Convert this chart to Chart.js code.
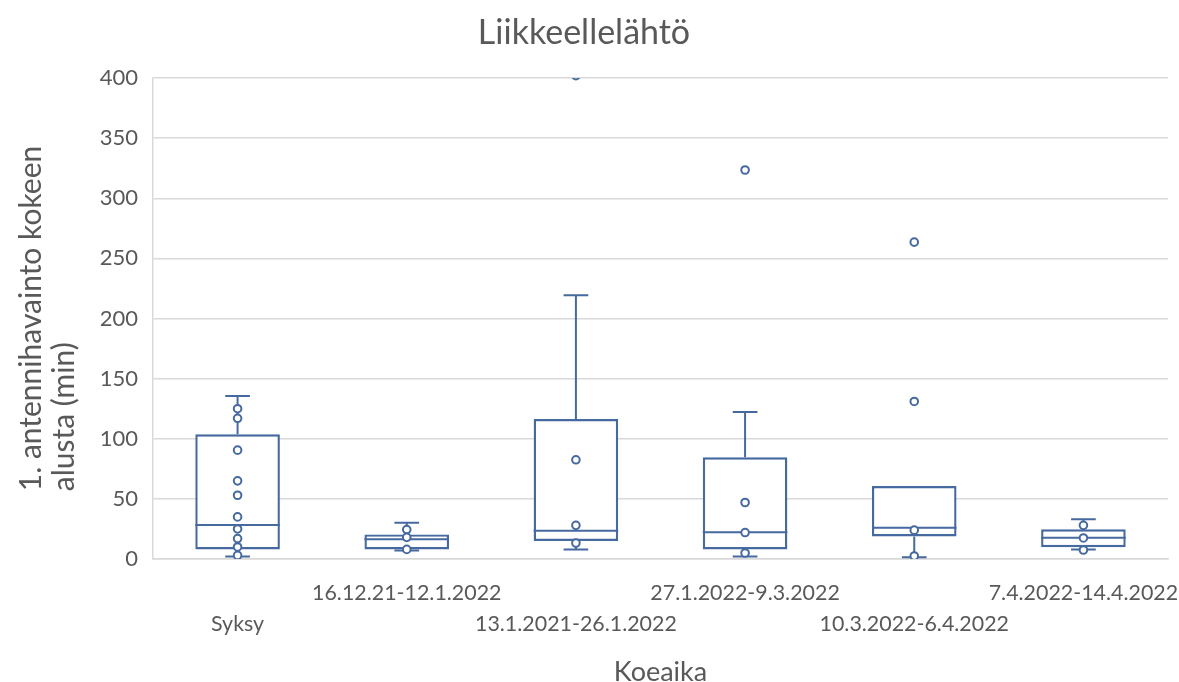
<!DOCTYPE html>
<html>
<head>
<meta charset="utf-8">
<title>Liikkeellelähtö</title>
<script src="https://cdn.jsdelivr.net/npm/chart.js@4.4.1/dist/chart.umd.min.js"></script>
<style>
  html, body { margin: 0; padding: 0; background: #ffffff; }
  #wrap { width: 1179px; height: 682px; }
</style>
</head>
<body>
<div id="wrap"><canvas id="chart" width="1179" height="682"></canvas></div>
<script>
// Sampling periods (x categories)
const categories = [
  'Syksy',
  '16.12.21-12.1.2022',
  '13.1.2021-26.1.2022',
  '27.1.2022-9.3.2022',
  '10.3.2022-6.4.2022',
  '7.4.2022-14.4.2022'
];

// Box-and-whisker summary per period (minutes)
const whiskerLow  = [2,     7,    8,     2,     1.5,  7.8];
const quartile1   = [8,     8,    15,    8,     18.8, 9.8];
const medians     = [28.3,  16.5, 23.5,  22.2,  26,   17.6];
const quartile3   = [103.7, 20.4, 116.4, 84.6,  60.7, 24.7];
const whiskerHigh = [135.5, 30.2, 219.3, 122.2, 60.7, 33];

// Individual observations drawn as circles
const pointsSyksy   = [125, 117, 90.5, 65, 53, 35, 25, 17, 10, 3];
const pointsDec     = [24.5, 18, 8];
const pointsJan     = [402, 82.5, 28, 13.3];
const pointsFebMar  = [323.5, 47, 22, 5];
const pointsMarApr  = [263.5, 131, 24, 2.5];
const pointsApr     = [28, 17.5, 7.5];
const observations = [pointsSyksy, pointsDec, pointsJan, pointsFebMar, pointsMarApr, pointsApr];

// Value axis
const yMin = 0, yMax = 400, yStep = 50;
const yTitleLines = ['1. antennihavainto kokeen', 'alusta (min)'];

const FONT = "Lato, 'Open Sans', sans-serif";
const TEXT = '#595959';
const GRID = '#d9d9d9';
const BLUE = '#46699f';
const CAP = 0.073;   // half width of whisker caps, in category units
const HALF = 0.25;   // half width of boxes, in category units

// Whisker stems and caps, segments split with gap points
const whiskerPts = [];
categories.forEach((_, i) => {
  if (whiskerHigh[i] > quartile3[i]) {
    whiskerPts.push({x: i, y: quartile3[i]}, {x: i, y: whiskerHigh[i]}, {x: i, y: null});
    whiskerPts.push({x: i - CAP, y: whiskerHigh[i]}, {x: i + CAP, y: whiskerHigh[i]}, {x: i, y: null});
  }
  if (whiskerLow[i] < quartile1[i]) {
    whiskerPts.push({x: i, y: quartile1[i]}, {x: i, y: whiskerLow[i]}, {x: i, y: null});
    whiskerPts.push({x: i - CAP, y: whiskerLow[i]}, {x: i + CAP, y: whiskerLow[i]}, {x: i, y: null});
  }
});

// Median lines across each box
const medianPts = [];
categories.forEach((_, i) => {
  medianPts.push({x: i - HALF, y: medians[i]}, {x: i + HALF, y: medians[i]}, {x: i, y: null});
});

// Observation circles
const obsPts = [];
observations.forEach((arr, i) => arr.forEach(v => obsPts.push({x: i, y: v})));

// Two-line value-axis title: block centred on the plot, lines start-aligned
const yTitleBlock = {
  id: 'yTitleBlock',
  afterDraw(chart) {
    const {ctx, chartArea} = chart;
    ctx.save();
    ctx.font = `30px ${FONT}`;
    ctx.fillStyle = TEXT;
    const widest = Math.max(...yTitleLines.map(t => ctx.measureText(t).width));
    const mid = (chartArea.top + chartArea.bottom) / 2;
    ctx.translate(0, mid + widest / 2);
    ctx.rotate(-Math.PI / 2);
    ctx.textAlign = 'left';
    ctx.textBaseline = 'middle';
    yTitleLines.forEach((t, k) => ctx.fillText(t, 0, 31 + k * 33));
    ctx.restore();
  }
};

new Chart(document.getElementById('chart'), {
  type: 'bar',
  data: {
    labels: categories,
    datasets: [
      {
        type: 'bar',
        data: categories.map((_, i) => [quartile1[i], quartile3[i]]),
        xAxisID: 'x',
        yAxisID: 'y',
        order: 2,
        grouped: false,
        backgroundColor: '#ffffff',
        borderColor: BLUE,
        borderWidth: 2.4,
        borderSkipped: false,
        barPercentage: 0.5,
        categoryPercentage: 1
      },
      {
        type: 'line',
        data: whiskerPts,
        xAxisID: 'x2',
        yAxisID: 'y',
        order: 1,
        borderColor: BLUE,
        borderWidth: 2,
        pointRadius: 0,
        spanGaps: false,
        fill: false
      },
      {
        type: 'line',
        data: medianPts,
        xAxisID: 'x2',
        yAxisID: 'y',
        order: 1,
        borderColor: BLUE,
        borderWidth: 2,
        pointRadius: 0,
        spanGaps: false,
        fill: false
      },
      {
        type: 'scatter',
        data: obsPts,
        xAxisID: 'x2',
        yAxisID: 'y',
        order: 0,
        pointStyle: 'circle',
        pointRadius: 3.8,
        pointBorderWidth: 2,
        pointBackgroundColor: '#ffffff',
        pointBorderColor: BLUE
      }
    ]
  },
  plugins: [yTitleBlock],
  options: {
    responsive: false,
    animation: false,
    devicePixelRatio: 1,
    layout: { padding: { top: 0, right: 11, bottom: 0, left: 0 } },
    plugins: {
      legend: { display: false },
      tooltip: { enabled: false },
      title: {
        display: true,
        text: 'Liikkeellelähtö',
        color: TEXT,
        font: { family: FONT, size: 34, weight: 'normal', lineHeight: 1.2 },
        padding: { top: 12.6, bottom: 24.6 }
      }
    },
    scales: {
      x: {
        type: 'category',
        offset: true,
        grid: { display: false, drawTicks: false },
        border: { display: true, color: GRID, width: 1.5 },
        ticks: {
          autoSkip: false,
          maxRotation: 0,
          minRotation: 0,
          padding: 18.5,
          color: TEXT,
          font: { family: FONT, size: 21.4, lineHeight: 1.45 },
          callback: function (value, index) {
            const label = this.getLabelForValue(value);
            return index % 2 === 0 ? ['', label] : [label, ''];
          }
        },
        title: {
          display: true,
          text: 'Koeaika',
          color: TEXT,
          font: { family: FONT, size: 27, lineHeight: 0.74 },
          padding: { top: 0, bottom: 0 }
        },
        afterFit: (scale) => {
          scale.height = 123;
          scale.paddingLeft = 0;
          scale.paddingRight = 0;
        }
      },
      x2: {
        type: 'linear',
        min: -0.5,
        max: 5.5,
        offset: false,
        display: false
      },
      y: {
        min: yMin,
        max: yMax,
        ticks: {
          stepSize: yStep,
          padding: 15,
          color: TEXT,
          font: { family: FONT, size: 22 }
        },
        grid: { color: GRID, lineWidth: 1.5, drawTicks: false },
        border: { display: true, color: GRID, width: 1.5 },
        title: { display: false },
        afterFit: (scale) => { scale.width = 153; }
      }
    }
  }
});
</script>
</body>
</html>
